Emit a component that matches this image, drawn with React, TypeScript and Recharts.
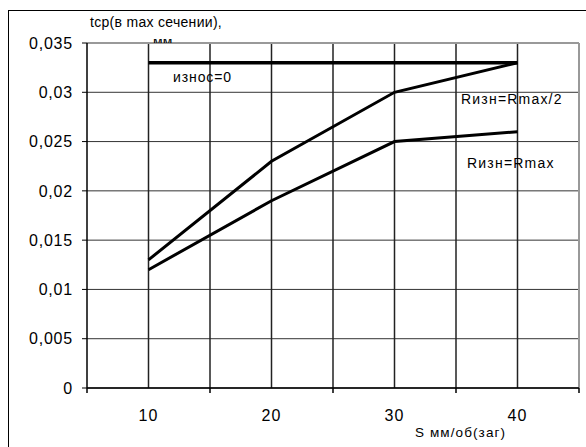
import { LineChart, Line, XAxis, YAxis, CartesianGrid, ReferenceLine } from 'recharts'

const sValues = [10, 20, 30, 40]
const wearZero = [0.033, 0.033, 0.033, 0.033]
const wearHalf = [0.013, 0.023, 0.03, 0.033]
const wearMax = [0.012, 0.019, 0.025, 0.026]
const xTicks = [5, 10, 15, 20, 25, 30, 35, 40, 45]
const xLabelTicks = [10, 20, 30, 40]
const yTicks = [0, 0.005, 0.01, 0.015, 0.02, 0.025, 0.03, 0.035]

const data = sValues.map((s, i) => ({ s, zero: wearZero[i], half: wearHalf[i], max: wearMax[i] }))

const font = '"Liberation Sans", Arial, sans-serif'
const fmt = (v: number) => (v === 0 ? '0' : String(+v.toFixed(3)).replace('.', ','))

function XTick({ x, y, payload }: any) {
  const v = payload.value
  if (xLabelTicks.includes(v)) {
    return (
      <text x={x} y={y + 33} textAnchor="middle" fontSize={16} letterSpacing={1} fontFamily={font} fill="#000">
        {v}
      </text>
    )
  }
  return <rect x={x - 0.75} y={y} width={1.5} height={5} fill="#000" />
}

const note = (text: string, left: number, top: number, size: number, ls: number) => (
  <div
    style={{
      position: 'absolute', left, top, fontSize: size, lineHeight: 1, letterSpacing: ls,
      fontFamily: font, color: '#000', whiteSpace: 'nowrap',
    }}
  >
    {text}
  </div>
)

export default function App() {
  return (
    <div style={{ position: 'absolute', left: 0, top: 0, width: 586, height: 447, overflow: 'hidden', background: '#fff' }}>
      <div style={{ position: 'absolute', left: 8, top: 10, width: 620, height: 480, border: '1.5px solid #000' }} />
      <div style={{ position: 'absolute', left: 0, top: 0 }}>
        <LineChart width={586} height={447} data={data} margin={{ top: 43, right: 7, bottom: 19, left: 7 }}>
          <CartesianGrid stroke="#333" strokeWidth={1} vertical={false} />
          <XAxis
            dataKey="s"
            type="number"
            domain={[5, 45]}
            ticks={xTicks}
            interval={0}
            height={40}
            tickLine={false}
            tickSize={0}
            tickMargin={0}
            tick={<XTick />}
            axisLine={{ stroke: '#000', strokeWidth: 1.5 }}
          />
          <YAxis
            type="number"
            domain={[0, 0.035]}
            ticks={yTicks}
            interval={0}
            width={80}
            tickSize={5}
            tickMargin={9}
            tickFormatter={fmt}
            tick={{ fontSize: 16, fill: '#000', fontFamily: font, letterSpacing: 0.8 }}
            tickLine={{ stroke: '#000' }}
            axisLine={{ stroke: '#000', strokeWidth: 1.5 }}
          />
          {xTicks.slice(1, -1).map((v) => (
            <ReferenceLine key={v} x={v} stroke="#222" strokeWidth={1.5} />
          ))}
          <ReferenceLine y={0.035} stroke="#999" strokeWidth={2} />
          <ReferenceLine x={45} stroke="#999" strokeWidth={2} />
          <Line dataKey="zero" type="linear" stroke="#000" strokeWidth={3.5} dot={false} isAnimationActive={false} />
          <Line dataKey="half" type="linear" stroke="#000" strokeWidth={3} dot={false} isAnimationActive={false} />
          <Line dataKey="max" type="linear" stroke="#000" strokeWidth={3} dot={false} isAnimationActive={false} />
        </LineChart>
      </div>
      {note('tcp(в  max сечении),', 90, 15, 14, 0.3)}
      <div style={{ position: 'absolute', left: 153, top: 39, width: 30, height: 4, overflow: 'hidden' }}>
        <div style={{ position: 'absolute', left: 0, top: -5.5, fontSize: 14, lineHeight: 1, fontFamily: font, whiteSpace: 'nowrap' }}>мм</div>
      </div>
      {note('износ=0', 173, 70, 14, 0.9)}
      {note('Rизн=Rmax/2', 461, 92, 14, 1.2)}
      {note('Rизн=Rmax', 467, 156, 14, 1.2)}
      {note('S мм/об(заг)', 415, 426, 13.5, 1.1)}
    </div>
  )
}
